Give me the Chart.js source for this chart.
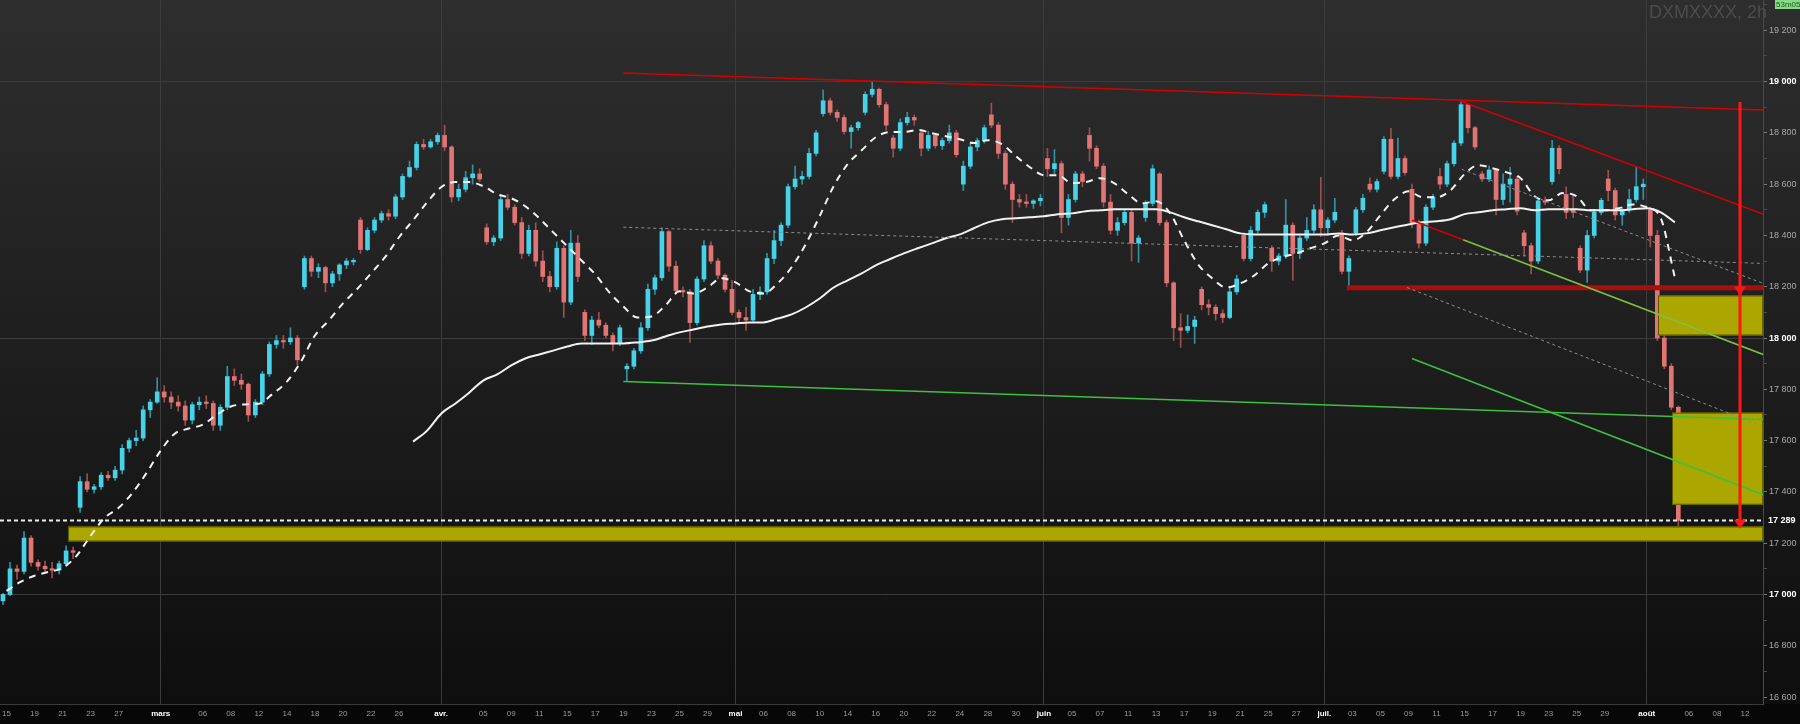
<!DOCTYPE html>
<html>
<head>
<meta charset="utf-8">
<script src="https://cdn.jsdelivr.net/npm/chart.js@4.4.1/dist/chart.umd.min.js"></script>
<style>
  html, body { margin: 0; padding: 0; background: #070707; }
  #wrap { width: 1800px; height: 724px; }
</style>
</head>
<body>
<div id="wrap"><canvas id="chart" width="1800" height="724"></canvas></div>
<script>
// 2h candles at half-day resolution: [open, high, low, close]
const febCandles = [
  [16975,17005,16960,17000],[17000,17125,16995,17100],[17100,17115,17060,17090],[17090,17245,17080,17220],
  [17220,17230,17110,17125],[17125,17135,17095,17110],[17110,17130,17085,17100],[17100,17125,17065,17095],
  [17095,17130,17080,17120],[17120,17190,17110,17170],[17170,17185,17140,17165],[17340,17460,17320,17440],
  [17440,17470,17400,17410],[17410,17430,17395,17420],[17420,17475,17410,17465],[17465,17480,17445,17455],
  [17455,17500,17445,17485],[17485,17585,17470,17570],[17570,17610,17555,17600],[17600,17640,17580,17610],
  [17610,17735,17600,17720],[17720,17760,17690,17750],[17750,17845,17745,17790]
];
const marCandles = [
  [17790,17815,17750,17770],[17770,17790,17725,17750],[17750,17775,17715,17735],[17735,17755,17660,17680],
  [17680,17750,17665,17740],[17740,17770,17720,17750],[17750,17775,17725,17745],[17745,17755,17640,17660],
  [17660,17740,17640,17730],[17730,17890,17720,17850],[17850,17880,17815,17835],[17835,17860,17800,17820],
  [17820,17825,17675,17700],[17700,17760,17690,17750],[17750,17870,17740,17860],[17860,17985,17850,17975],
  [17975,18010,17960,17990],[17990,18010,17960,17985],[17985,18040,17975,18000],[18000,18010,17895,17915],
  [18200,18320,18190,18310],[18310,18320,18240,18260],[18260,18290,18235,18275],[18275,18280,18180,18215],
  [18215,18260,18200,18250],[18250,18290,18225,18285],[18285,18310,18270,18300],[18300,18310,18285,18300],
  [18460,18470,18330,18345],[18345,18430,18340,18420],[18420,18470,18410,18460],[18460,18495,18450,18485],
  [18485,18500,18460,18475],[18475,18560,18465,18550],[18550,18640,18540,18630],[18630,18690,18625,18665],
  [18665,18765,18655,18755],[18755,18775,18735,18745],[18745,18775,18740,18765],[18765,18800,18755,18790]
];
const aprCandles = [
  [18790,18830,18730,18745],[18745,18750,18530,18550],[18550,18600,18535,18580],[18580,18650,18570,18625],
  [18625,18675,18600,18640],[18640,18660,18610,18620],[18430,18445,18365,18375],[18375,18400,18360,18390],
  [18390,18560,18380,18540],[18540,18560,18500,18510],[18510,18520,18440,18450],[18450,18470,18310,18330],
  [18330,18440,18320,18420],[18420,18450,18280,18300],[18300,18340,18220,18240],[18240,18260,18180,18200],
  [18200,18375,18190,18350],[18350,18360,18080,18140],[18140,18420,18130,18370],[18370,18400,18220,18240],
  [18100,18110,17990,18010],[18010,18085,17975,18070],[18070,18100,18040,18050],[18050,18060,18000,18010],
  [18010,18020,17950,17980],[17980,18050,17970,18040],[17880,17900,17834,17890],[17890,17960,17880,17950],
  [17950,18060,17940,18040],[18040,18210,18030,18190],[18190,18245,18170,18235],[18235,18430,18225,18415],
  [18415,18420,18260,18280],[18280,18300,18170,18185],[18185,18200,18160,18180],[18180,18190,17983,18060],
  [18060,18240,18050,18230],[18230,18380,18220,18360],[18360,18375,18290,18300],[18300,18310,18230,18245],
  [18245,18250,18180,18190],[18190,18225,18090,18100]
];
const mayCandles = [
  [18100,18110,18060,18080],[18080,18120,18030,18070],[18070,18190,18060,18170],[18170,18200,18150,18180],
  [18180,18330,18170,18310],[18310,18420,18290,18380],[18380,18450,18360,18440],[18440,18600,18430,18590],
  [18590,18670,18580,18620],[18620,18650,18600,18630],[18630,18740,18620,18720],[18720,18810,18710,18800],
  [18875,18967,18865,18925],[18925,18935,18870,18880],[18880,18890,18845,18860],[18860,18870,18795,18805],
  [18805,18830,18740,18820],[18820,18845,18810,18840],[18880,18960,18870,18950],[18950,19000,18940,18970],
  [18970,18975,18900,18910],[18910,18920,18810,18830],[18780,18790,18705,18740],[18740,18855,18730,18840],
  [18840,18880,18830,18860],[18860,18870,18830,18850],[18800,18810,18710,18740],[18740,18805,18730,18790],
  [18790,18795,18740,18750],[18750,18780,18735,18770],[18770,18830,18760,18800],[18800,18810,18705,18715],
  [18600,18690,18575,18670],[18670,18760,18660,18745],[18745,18780,18730,18770],[18770,18830,18760,18820],
  [18870,18916,18820,18830],[18830,18840,18700,18720],[18720,18730,18580,18600],[18600,18610,18450,18540],
  [18540,18560,18510,18530],[18530,18560,18510,18525],[18525,18540,18505,18535],[18535,18560,18515,18545]
];
const junCandles = [
  [18700,18740,18630,18660],[18660,18735,18640,18680],[18680,18690,18410,18470],[18470,18560,18440,18540],
  [18540,18650,18530,18640],[18640,18650,18590,18610],[18790,18820,18690,18740],[18740,18750,18660,18670],
  [18670,18680,18510,18530],[18530,18560,18405,18420],[18420,18470,18400,18450],[18450,18500,18440,18490],
  [18490,18500,18300,18370],[18370,18400,18295,18390],[18470,18535,18455,18525],[18525,18675,18515,18660],
  [18640,18645,18440,18450],[18450,18460,18200,18215],[18215,18220,17990,18040],[18040,18095,17963,18030],
  [18030,18090,18020,18045],[18045,18085,17979,18070],[18190,18200,18110,18130],[18130,18150,18090,18120],
  [18120,18130,18070,18095],[18095,18110,18060,18080],[18080,18195,18075,18180],[18180,18245,18170,18230],
  [18400,18410,18300,18310],[18310,18435,18300,18420],[18420,18500,18410,18490],[18490,18530,18470,18520],
  [18350,18360,18260,18300],[18300,18330,18285,18320],[18320,18540,18310,18440],[18440,18450,18225,18330],
  [18330,18400,18310,18390],[18390,18470,18380,18420],[18420,18520,18410,18500],[18500,18627,18395,18430]
];
const julCandles = [
  [18430,18470,18400,18460],[18460,18545,18450,18490],[18410,18420,18250,18260],[18260,18320,18200,18310],
  [18410,18510,18400,18500],[18500,18560,18490,18545],[18600,18625,18570,18580],[18580,18620,18570,18610],
  [18650,18785,18640,18775],[18775,18818,18620,18630],[18630,18780,18620,18700],[18700,18710,18635,18645],
  [18580,18600,18430,18450],[18450,18460,18350,18370],[18370,18520,18360,18510],[18510,18560,18500,18550],
  [18630,18662,18580,18600],[18600,18690,18590,18680],[18680,18770,18670,18760],[18760,18924,18750,18910],
  [18910,18915,18800,18820],[18820,18825,18735,18745],[18640,18650,18610,18620],[18620,18670,18610,18655],
  [18655,18660,18480,18540],[18540,18640,18520,18600],[18600,18666,18530,18620],[18620,18630,18480,18495],
  [18410,18420,18320,18360],[18360,18370,18250,18300],[18300,18545,18290,18535],[18535,18550,18520,18530],
  [18610,18771,18600,18740],[18740,18750,18640,18660],[18560,18590,18465,18490],[18500,18560,18470,18490],
  [18350,18360,18255,18265],[18265,18420,18217,18400],[18400,18500,18390,18490],[18490,18545,18480,18537],
  [18620,18654,18535,18575],[18575,18585,18460,18480],[18480,18510,18440,18500],[18500,18580,18490,18540],
  [18540,18666,18530,18590],[18590,18620,18540,18600]
];
const augCandles = [
  [18500,18510,18355,18400],[18400,18420,17990,18000],[18000,18010,17880,17890],[17890,17900,17720,17730],
  [17730,17735,17268,17289]
];

// moving averages, one reading per trading day
const fastMaStart = 0;
const fastMa = [
  17014,17049,17073,17088,17104,17151,17229,17299,17338,17397,17475,17561,17627,17647,17662,17701,
  17733,17741,17744,17783,17830,17908,18010,18069,18135,18190,18252,18315,18393,18459,18529,18588,
  18608,18608,18592,18561,18545,18514,18467,18412,18358,18303,18248,18178,18123,18080,18084,18127,
  18182,18174,18197,18233,18217,18182,18174,18213,18276,18365,18475,18592,18678,18732,18783,18803,
  18803,18811,18799,18787,18775,18760,18771,18756,18709,18666,18635,18635,18604,18608,18623,18604,
  18561,18525,18533,18486,18381,18287,18233,18197,18213,18244,18291,18315,18330,18350,18369,18400,
  18381,18412,18479,18541,18572,18549,18549,18576,18639,18674,18662,18646,18623,18553,18537,18565,
  18553,18498,18498,18506,18521,18510,18467,18236
];
const slowMaStart = 29;
const slowMa = [
  17596,17639,17705,17744,17787,17834,17858,17893,17920,17936,17951,17967,17979,17979,17979,17979,
  17983,17990,18006,18022,18033,18045,18053,18057,18061,18061,18076,18092,18119,18154,18197,18225,
  18252,18283,18307,18330,18350,18369,18389,18404,18428,18451,18463,18467,18471,18475,18483,18486,
  18494,18498,18502,18502,18502,18502,18490,18471,18455,18440,18424,18408,18404,18404,18404,18404,
  18404,18404,18408,18404,18408,18420,18432,18443,18451,18455,18463,18483,18490,18498,18502,18506,
  18498,18502,18502,18502,18498,18498,18498,18502,18506,18490,18451
];

// hand drawn trendlines: [trading day, price]
const redResistance = [[44.0, 19033], [125.3, 18889]];
const redChannel = [[103.7, 18924], [125.3, 18483]];
const redSupport = [[95.6, 18196], [125.3, 18196]];
const redToGreenA = [[100.25, 18459], [103.9, 18383]];
const redToGreenB = [[103.9, 18383], [125.3, 17936]];
const greenLong = [[44.0, 17830], [125.3, 17682]];
const greenLower = [[100.25, 17920], [125.3, 17389]];
const dottedFlat = [[44.0, 18432], [125.3, 18291]];
const dottedMid = [[99.9, 18197], [125.3, 17655]];
const dottedHigh = [[103.8, 18658], [125.3, 18213]];

// target zones: [from day, to day, low, high]
const zones = [[4.39, 125.3, 17207, 17265], [117.8, 125.3, 18010, 18166], [118.8, 125.3, 17350, 17709]];
const arrowDay = 123.65, arrowTop = 18920, arrowTips = [18166, 17256];
const lastPrice = 17289;

const xTickLabels = ['15','19','21','23','27','mars','06','08','12','14','18','20','22','26','avr.','05','09','11','15','17','19','23','25','29','mai','06','08','10','14','16','20','22','24','28','30','juin','05','07','11','13','17','19','21','25','27','juil.','03','05','09','11','15','17','19','23','25','29','août','06','08','12'];
const xTickDays = [0,2,4,6,8,11,14,16,18,20,22,24,26,28,31,34,36,38,40,42,44,46,48,50,52,54,56,58,60,62,64,66,68,70,72,74,76,78,80,82,84,86,88,90,92,94,96,98,100,102,104,106,108,110,112,114,117,120,122,124];

const xMin = -0.464, xMax = 125.29;
const yMin = 16573, yMax = 19318;

const UP = '#46d3ea', DOWN = '#e27474', UP_WICK = '#2f93a3', DOWN_WICK = '#9a5050';
const FONT = "'Liberation Sans Narrow', 'Liberation Sans', Arial, sans-serif";

const candles = [].concat(febCandles, marCandles, aprCandles, mayCandles, junCandles, julCandles, augCandles);
const slotDay = i => -0.25 + i * 0.5;
const isUp = candles.map(c => c[3] >= c[0]);
const wickData = candles.map((c, i) => ({ x: slotDay(i), y: [c[2], c[1]] }));
const bodyData = candles.map((c, i) => {
  let lo = Math.min(c[0], c[3]), hi = Math.max(c[0], c[3]);
  if (hi - lo < 6) { const m = (hi + lo) / 2; lo = m - 3; hi = m + 3; }
  return { x: slotDay(i), y: [lo, hi] };
});
const pts = arr => arr.map(p => ({ x: p[0], y: p[1] }));
const monthIdx = new Set(xTickLabels.map((l, i) => /^[a-z]/.test(l) ? i : -1).filter(i => i >= 0));

function seg(data, color, width, dash) {
  return { type: 'line', data: pts(data), borderColor: color, borderWidth: width, borderDash: dash || [],
           pointRadius: 0, fill: false, order: 4 };
}

const overlay = {
  id: 'overlay',
  beforeDraw(chart) {
    const { ctx, chartArea: a } = chart;
    ctx.save();
    ctx.fillStyle = '#070707';
    ctx.fillRect(0, 0, chart.width, chart.height);
    const g = ctx.createLinearGradient(0, 0, 0, a.bottom);
    g.addColorStop(0, '#2e2e2e');
    g.addColorStop(1, '#0e0e0e');
    ctx.fillStyle = g;
    ctx.fillRect(0, 0, chart.width, a.bottom);
    ctx.restore();
  },
  afterDatasetDraw(chart, args) {
    if (chart.data.datasets[args.index].label !== 'bodies') return;
    const { ctx, scales: { x, y } } = chart;
    ctx.save();
    zones.forEach(z => {
      const x0 = x.getPixelForValue(z[0]), x1 = x.getPixelForValue(z[1]);
      const y0 = y.getPixelForValue(z[3]), y1 = y.getPixelForValue(z[2]);
      ctx.fillStyle = '#aba700';
      ctx.fillRect(x0, y0, x1 - x0, y1 - y0);
      ctx.strokeStyle = '#5c5a00';
      ctx.lineWidth = 1;
      ctx.strokeRect(x0 + 0.5, y0 + 0.5, x1 - x0 - 1, y1 - y0 - 1);
    });
    ctx.restore();
  },
  afterDatasetsDraw(chart) {
    const { ctx, chartArea: a, scales: { x, y } } = chart;
    ctx.save();
    // last price line
    const py = Math.round(y.getPixelForValue(lastPrice)) + 0.5;
    ctx.strokeStyle = '#ececec';
    ctx.lineWidth = 2;
    ctx.setLineDash([4, 3]);
    ctx.beginPath(); ctx.moveTo(a.left, py); ctx.lineTo(a.right, py); ctx.stroke();
    ctx.setLineDash([]);
    // target arrow
    const ax = Math.round(x.getPixelForValue(arrowDay));
    const tips = arrowTips.map(v => y.getPixelForValue(v));
    ctx.strokeStyle = '#ff1616';
    ctx.fillStyle = '#ff1616';
    ctx.lineWidth = 3;
    ctx.beginPath(); ctx.moveTo(ax, y.getPixelForValue(arrowTop)); ctx.lineTo(ax, tips[tips.length - 1] - 6); ctx.stroke();
    tips.forEach(t => {
      ctx.beginPath(); ctx.moveTo(ax - 6, t - 9); ctx.lineTo(ax + 6, t - 9); ctx.lineTo(ax, t); ctx.closePath(); ctx.fill();
    });
    ctx.restore();
  },
  afterDraw(chart) {
    const { ctx, chartArea: a, scales: { y } } = chart;
    ctx.save();
    ctx.font = '18px ' + FONT.replace("'Liberation Sans Narrow', ", '');
    ctx.fillStyle = '#4c4c4c';
    ctx.textAlign = 'right';
    ctx.textBaseline = 'alphabetic';
    ctx.fillText('DXMXXXX, 2h', 1767, 18);
    // timer badge
    ctx.fillStyle = '#86dc86';
    ctx.fillRect(1775, 0, 25, 9);
    ctx.fillStyle = '#1d561d';
    ctx.font = '8px ' + FONT;
    ctx.textAlign = 'left';
    ctx.textBaseline = 'middle';
    ctx.fillText('53m05s', 1776, 5);
    // last price tag
    const py = y.getPixelForValue(lastPrice);
    ctx.fillStyle = '#151515';
    ctx.fillRect(a.right + 1, py - 6, 36, 12);
    ctx.fillStyle = '#ffffff';
    ctx.font = 'bold 9px ' + FONT;
    ctx.fillText('17 289', a.right + 5, py + 0.5);
    ctx.restore();
  }
};

const fmt = v => String(v).replace(/\B(?=(\d{3})+(?!\d))/g, ' ');

new Chart(document.getElementById('chart'), {
  type: 'bar',
  data: {
    datasets: [
      { label: 'wicks', data: wickData, backgroundColor: isUp.map(u => u ? UP_WICK : DOWN_WICK),
        barThickness: 1, grouped: false, order: 20 },
      { label: 'bodies', data: bodyData, backgroundColor: isUp.map(u => u ? UP : DOWN),
        barThickness: 4, grouped: false, order: 19 },
      { type: 'line', label: 'slow', data: slowMa.map((v, i) => ({ x: slowMaStart + i, y: v })),
        borderColor: '#f2f2f2', borderWidth: 2, pointRadius: 0, cubicInterpolationMode: 'monotone', order: 6 },
      { type: 'line', label: 'fast', data: fastMa.map((v, i) => ({ x: fastMaStart + i, y: v })),
        borderColor: '#f2f2f2', borderWidth: 2, borderDash: [7, 6], pointRadius: 0, cubicInterpolationMode: 'monotone', order: 6 },
      seg(dottedFlat, '#8c8c8c', 1, [3, 3]),
      seg(dottedMid, '#8c8c8c', 1, [3, 3]),
      seg(dottedHigh, '#8c8c8c', 1, [3, 3]),
      seg(greenLong, '#3fbf3f', 1.5),
      seg(greenLower, '#3fbf3f', 1.5),
      seg(redToGreenA, '#d40000', 1.5),
      seg(redToGreenB, '#80c040', 1.5),
      seg(redResistance, '#d40000', 1.5),
      seg(redChannel, '#d40000', 1.5),
      seg(redSupport, '#a80e0e', 5)
    ]
  },
  options: {
    responsive: false,
    animation: false,
    devicePixelRatio: 1,
    events: [],
    layout: { padding: 0 },
    plugins: { legend: { display: false }, tooltip: { enabled: false } },
    scales: {
      x: {
        type: 'linear', min: xMin, max: xMax, offset: false,
        afterBuildTicks: s => { s.ticks = xTickDays.map(v => ({ value: v })); },
        afterFit: s => { s.height = 20; s.paddingLeft = 0; s.paddingRight = 0; },
        ticks: {
          autoSkip: false, maxRotation: 0, padding: 5,
          callback: (v, i) => xTickLabels[i],
          color: c => monthIdx.has(c.index) ? '#ffffff' : '#9a9a9a',
          font: c => ({ family: FONT, size: 8, weight: monthIdx.has(c.index) ? 'bold' : 'normal' })
        },
        grid: { color: c => monthIdx.has(c.index) ? '#3c3c3c' : 'rgba(0,0,0,0)', drawTicks: false, offset: false },
        border: { color: '#3a3a3a' }
      },
      y: {
        position: 'right', min: yMin, max: yMax,
        afterBuildTicks: s => { const t = []; for (let v = 16600; v <= 19300; v += 100) t.push({ value: v }); s.ticks = t; },
        afterFit: s => { s.width = 37; s.paddingTop = 0; s.paddingBottom = 0; },
        ticks: {
          padding: 2,
          callback: v => v % 200 === 0 ? fmt(v) : '',
          color: c => c.tick && c.tick.value % 1000 === 0 ? '#ffffff' : '#a8a8a8',
          font: c => ({ family: FONT, size: 9, weight: c.tick && c.tick.value % 1000 === 0 ? 'bold' : 'normal' })
        },
        grid: {
          color: c => c.tick && c.tick.value % 1000 === 0 ? '#3c3c3c' : 'rgba(0,0,0,0)',
          tickColor: c => c.tick && c.tick.value % 200 === 0 ? '#777777' : '#4a4a4a',
          tickLength: 4
        },
        border: { color: '#4a4a4a' }
      }
    }
  },
  plugins: [overlay]
});
</script>
</body>
</html>
